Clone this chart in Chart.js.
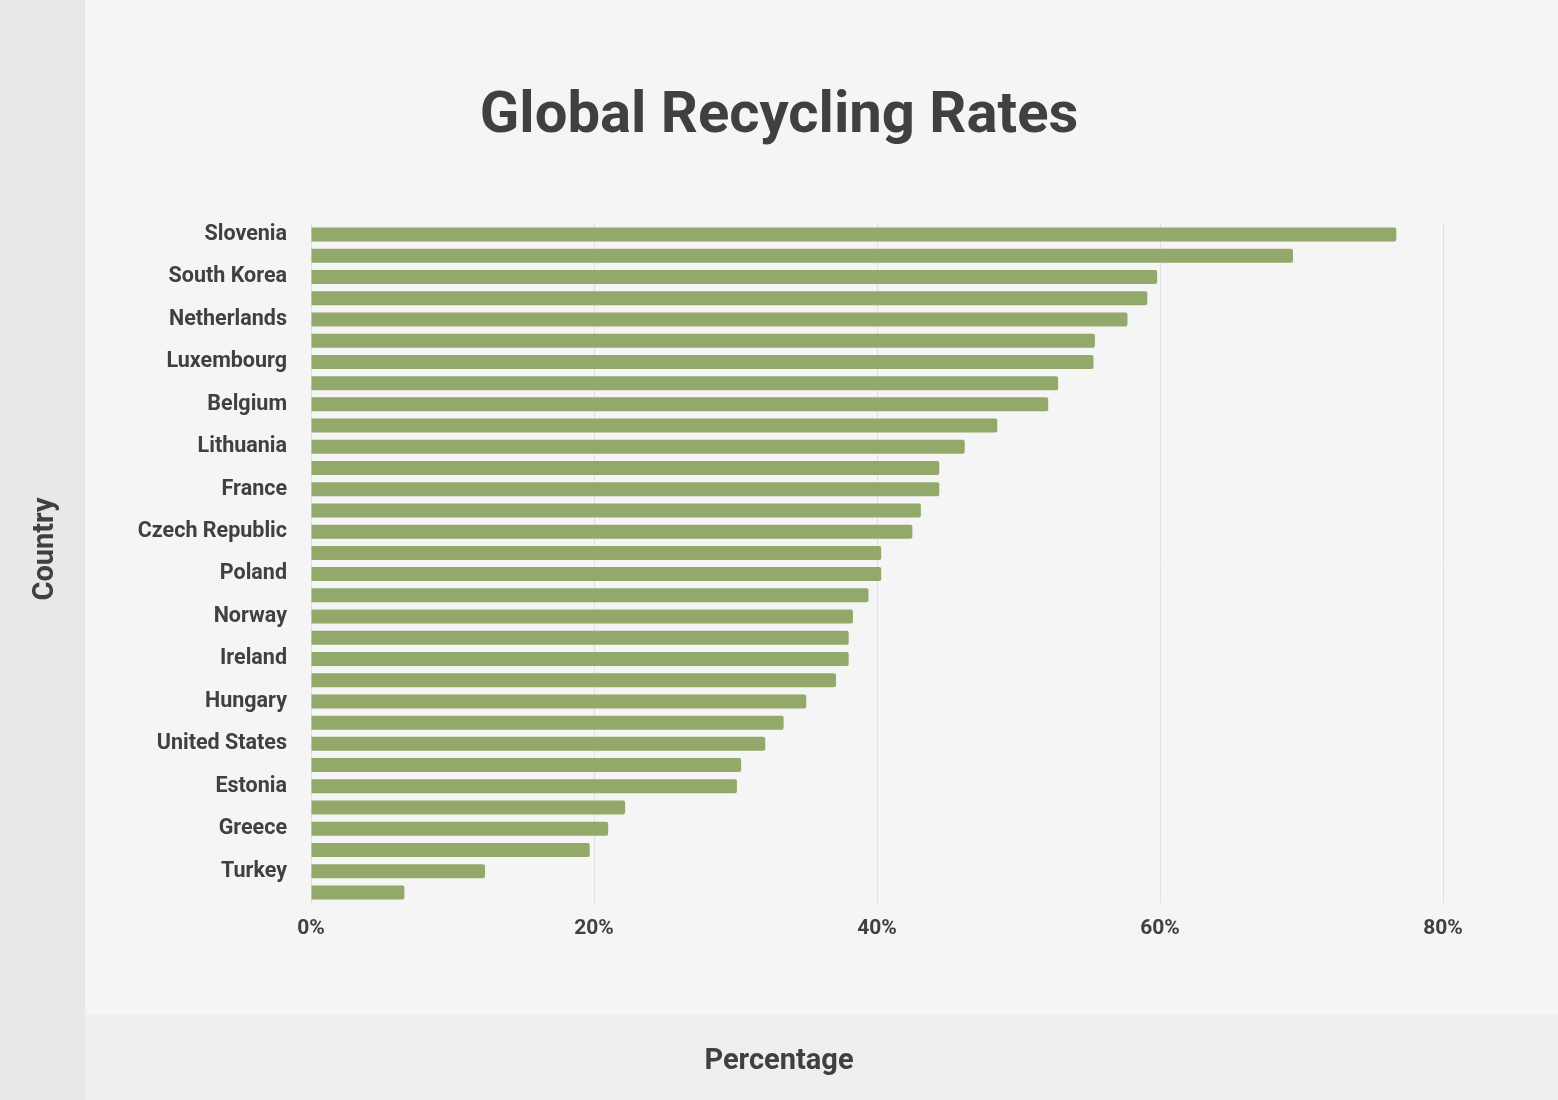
<!DOCTYPE html>
<html>
<head>
<meta charset="utf-8">
<script src="https://cdn.jsdelivr.net/npm/chart.js@4.4.1/dist/chart.umd.min.js"></script>
<style>
  html, body { margin: 0; padding: 0; }
  body { width: 1558px; height: 1100px; background: #f5f5f5; position: relative; overflow: hidden; font-family: Roboto, "Noto Sans", sans-serif; }
  #leftStrip { position: absolute; left: 0; top: 0; width: 85px; height: 1100px; background: #e8e8e8; }
  #bottomBand { position: absolute; left: 85px; top: 1015px; width: 1473px; height: 85px; background: #efefef; }
  #wrap { position: absolute; left: 0; top: 0; width: 1558px; height: 1100px; }
</style>
</head>
<body>
<div id="leftStrip"></div>
<div id="bottomBand"></div>
<div id="wrap"><canvas id="c" width="1558" height="1100"></canvas></div>
<script>
const chartTitle = "Global Recycling Rates";
const xAxisTitle = "Percentage";
const yAxisTitle = "Country";
const countries = [
  "Slovenia", "Germany", "South Korea", "Austria", "Netherlands", "Switzerland",
  "Luxembourg", "Denmark", "Belgium", "Italy", "Lithuania", "Sweden",
  "France", "United Kingdom", "Czech Republic", "Finland", "Poland", "Latvia",
  "Norway", "Iceland", "Ireland", "Australia", "Hungary", "Spain",
  "United States", "Portugal", "Estonia", "Canada", "Greece", "Slovakia",
  "Turkey", "Chile"
];
const recyclingRates = [
  76.7, 69.4, 59.8, 59.1, 57.7, 55.4,
  55.3, 52.8, 52.1, 48.5, 46.2, 44.4,
  44.4, 43.1, 42.5, 40.3, 40.3, 39.4,
  38.3, 38.0, 38.0, 37.1, 35.0, 33.4,
  32.1, 30.4, 30.1, 22.2, 21.0, 19.7,
  12.3, 6.6
];
const xTickValues = [0, 20, 40, 60, 80];

const textColor = "#404040";

const titlesPlugin = {
  id: "titles",
  afterDraw(chart) {
    const ctx = chart.ctx;
    ctx.save();
    ctx.fillStyle = textColor;
    ctx.textAlign = "center";
    ctx.textBaseline = "alphabetic";
    ctx.font = "bold 58px Roboto";
    ctx.fillText(chartTitle, 779, 132);
    ctx.font = "bold 29px Roboto";
    ctx.fillText(xAxisTitle, 779, 1069);
    ctx.textBaseline = "middle";
    ctx.translate(46, 549);
    ctx.rotate(-Math.PI / 2);
    ctx.fillText(yAxisTitle, 0, 0);
    ctx.restore();
  }
};

new Chart(document.getElementById("c"), {
  type: "bar",
  data: {
    labels: countries,
    datasets: [{
      label: yAxisTitle,
      data: recyclingRates,
      backgroundColor: "#93a86b",
      borderWidth: 0,
      borderRadius: 2,
      borderSkipped: "start",
      barPercentage: 0.66,
      categoryPercentage: 1.0
    }]
  },
  options: {
    indexAxis: "y",
    responsive: false,
    animation: false,
    devicePixelRatio: 1,
    layout: { padding: { left: 0, right: 115, top: 224, bottom: 0 } },
    plugins: {
      legend: { display: false },
      tooltip: { enabled: false },
      title: { display: false }
    },
    scales: {
      x: {
        type: "linear",
        min: 0,
        max: 80,
        afterBuildTicks(scale) { scale.ticks = xTickValues.map(v => ({ value: v })); },
        afterFit(scale) { scale.height = 197; },
        grid: { color: "#e0e0e0", lineWidth: 1, drawTicks: false },
        border: { display: false },
        ticks: {
          color: textColor,
          font: { family: "Roboto", size: 21, weight: "bold" },
          padding: 13,
          callback: v => v + "%"
        }
      },
      y: {
        afterFit(scale) { scale.width = 311; },
        grid: { display: false, drawTicks: false },
        border: { display: true, color: "#e0e0e0", width: 1 },
        ticks: {
          autoSkip: false,
          color: textColor,
          font: { family: "Roboto", size: 21.5, weight: "bold" },
          padding: 24,
          callback(value, index) { return index % 2 === 0 ? this.getLabelForValue(value) : ""; }
        }
      }
    }
  },
  plugins: [titlesPlugin]
});
</script>
</body>
</html>
